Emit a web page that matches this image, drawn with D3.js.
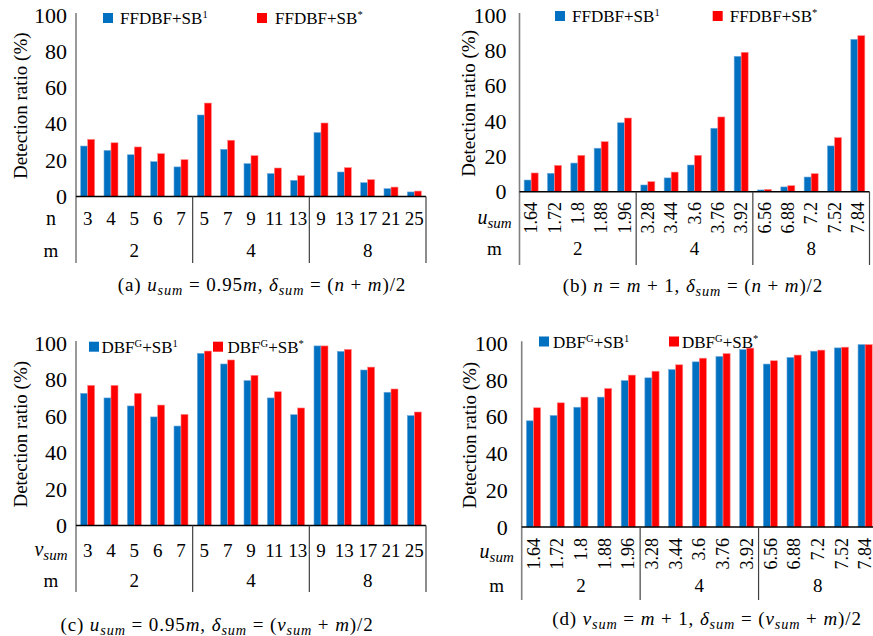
<!DOCTYPE html>
<html>
<head>
<meta charset="utf-8">
<script src="https://cdn.jsdelivr.net/npm/d3@7"></script>
<style>
  body { margin: 0; background: #fff; }
  svg { display: block; }
  text { font-family: "Liberation Serif", "Times New Roman", serif; fill: #000; }
</style>
</head>
<body>
<svg id="chart" width="873" height="636"></svg>
<script>
// ---- data ----
const nLabels   = ["3", "4", "5", "6", "7", "5", "7", "9", "11", "13", "9", "13", "17", "21", "25"];
const uLabels   = ["1.64", "1.72", "1.8", "1.88", "1.96", "3.28", "3.44", "3.6", "3.76", "3.92",
                   "6.56", "6.88", "7.2", "7.52", "7.84"];
const mGroups   = ["2", "4", "8"];
const yTicks    = [0, 20, 40, 60, 80, 100];

const aBase = [27.8, 25.4, 23.0, 19.2, 16.3, 44.9, 26.0, 18.1, 12.6, 8.9, 35.2, 13.5, 7.6, 4.3, 2.5];
const aStar = [31.5, 29.6, 27.3, 23.6, 20.3, 51.5, 31.0, 22.5, 15.7, 11.5, 40.5, 15.9, 9.3, 5.2, 3.0];

const bBase = [6.6, 10.4, 16.2, 24.6, 39.0, 3.8, 7.8, 15.1, 35.9, 76.6, 1.0, 2.7, 8.3, 25.9, 86.2];
const bStar = [10.6, 14.9, 20.6, 28.3, 41.7, 5.7, 11.1, 20.6, 42.3, 78.9, 1.3, 3.4, 10.2, 30.6, 88.3];

const cBase = [72.4, 69.9, 65.5, 59.5, 54.5, 94.3, 88.5, 79.4, 69.9, 60.7, 98.4, 95.4, 85.2, 73.0, 60.2];
const cStar = [76.8, 76.8, 72.4, 66.0, 60.9, 95.6, 90.7, 82.3, 73.3, 64.4, 98.4, 96.5, 86.8, 74.8, 62.2];

const dBase = [57.8, 60.7, 65.2, 70.7, 79.7, 81.2, 85.7, 89.9, 92.8, 96.6, 88.7, 92.3, 95.7, 97.5, 99.3];
const dStar = [64.9, 67.6, 70.7, 75.4, 82.7, 84.8, 88.3, 91.9, 94.4, 97.4, 90.5, 93.6, 96.3, 97.9, 99.3];

const colors = ["#0070C0", "#FF0000"];

const svg = d3.select("#chart");

// writes a list of [text, style] runs into a text element (shifts in px)
function runs(el, parts, shift) {
    parts.forEach(([t, s]) => {
        const ts = el.append("tspan").text(t);
        if (s === "i") ts.attr("font-style", "italic");
        if (s === "sub") ts.attr("font-style", "italic").attr("font-size", "0.75em").attr("dy", shift);
        if (s === "up") ts.attr("dy", -shift);
        if (s === "sup") ts.attr("font-size", "0.62em").attr("dy", -shift);
        if (s === "down") ts.attr("dy", shift);
    });
}

function drawPanel(p)
{
    const g = svg.append("g");

    const x = d3.scaleBand()
        .domain(d3.range(p.cats.length))
        .range([p.left, p.right])
        .paddingInner(0.4)
        .paddingOuter(0.2);
    const xs = d3.scaleBand().domain([0, 1]).range([0, x.bandwidth()]);
    const y = d3.scaleLinear().domain([0, 100]).range([p.y0, p.y100]);

    [p.base, p.star].forEach((vals, s) => {
        g.append("g").selectAll("rect")
            .data(vals)
            .join("rect")
            .attr("x", (d, i) => x(i) + xs(s))
            .attr("y", d => y(d))
            .attr("width", xs.bandwidth())
            .attr("height", d => y(0) - y(d))
            .attr("fill", colors[s])
            .attr("stroke", s ? "#ff8a8a" : "#6fa8dc")
            .attr("stroke-width", 0.6);
    });

    // y axis (labels only)
    const ax = g.append("g")
        .attr("transform", `translate(${p.left},0)`)
        .call(d3.axisLeft(y).tickValues(yTicks).tickSize(0).tickPadding(p.tickPad))
        .attr("font-family", null)
        .attr("font-size", 22);
    ax.select(".domain").remove();

    // y axis line, runs down through the category table
    g.append("line")
        .attr("x1", p.left).attr("x2", p.left)
        .attr("y1", y(100) - 2).attr("y2", p.bottom)
        .attr("stroke", "#808080").attr("stroke-width", 1.6);

    // x axis line
    g.append("line")
        .attr("x1", p.left).attr("x2", p.right)
        .attr("y1", y(0)).attr("y2", y(0))
        .attr("stroke", "#000").attr("stroke-width", 1.5);

    // group separators
    const step = x.step();
    g.append("g").selectAll("line")
        .data(d3.range(1, mGroups.length + 1))
        .join("line")
        .attr("x1", k => p.left + step * 5 * k)
        .attr("x2", k => p.left + step * 5 * k)
        .attr("y1", y(0)).attr("y2", p.bottom)
        .attr("stroke", "#404040").attr("stroke-width", 1.2);

    // category labels
    const cl = g.append("g").attr("font-size", p.rotated ? 18 : 19);
    if (p.rotated) {
        cl.selectAll("text").data(p.cats).join("text")
            .attr("transform", (d, i) => `translate(${x(i) + x.bandwidth() / 2},${p.catY}) rotate(-90)`)
            .attr("text-anchor", "end")
            .attr("dy", "0.34em")
            .text(d => d);
    } else {
        cl.selectAll("text").data(p.cats).join("text")
            .attr("x", (d, i) => x(i) + x.bandwidth() / 2)
            .attr("y", p.catY)
            .attr("text-anchor", "middle")
            .text(d => d);
    }

    g.append("g").attr("font-size", 19).selectAll("text")
        .data(mGroups).join("text")
        .attr("x", (d, k) => p.left + step * (5 * k + 2.5))
        .attr("y", p.mY)
        .attr("text-anchor", "middle")
        .text(d => d);

    // row headers
    const rh = g.append("text")
        .attr("x", p.left - 25).attr("y", p.rowY)
        .attr("text-anchor", "middle").attr("font-size", 20);
    runs(rh, p.rowName, 4);
    g.append("text")
        .attr("x", p.left - 25).attr("y", p.mY)
        .attr("text-anchor", "middle").attr("font-size", 19)
        .text("m");

    // axis title
    g.append("text")
        .attr("transform", `translate(${p.titleX},${(y(0) + y(100)) / 2}) rotate(-90)`)
        .attr("text-anchor", "middle")
        .attr("dy", "0.35em")
        .attr("font-size", 19)
        .text("Detection ratio (%)");

    // legend
    p.legend.forEach((lg, s) => {
        g.append("rect")
            .attr("x", lg[0]).attr("y", p.legY - 10)
            .attr("width", 10).attr("height", 10)
            .attr("fill", colors[s]);
        const t = g.append("text")
            .attr("x", lg[0] + lg[1]).attr("y", p.legY + 1)
            .attr("font-size", 17);
        runs(t, p.legendText[s], 6);
    });

    // caption
    const cap = g.append("text")
        .attr("x", p.capX).attr("y", p.capY)
        .attr("text-anchor", "middle")
        .attr("font-size", 19)
        .attr("letter-spacing", 0.9);
    runs(cap, p.caption, 3.5);
}

const ffLegend = [
    [["FFDBF+SB", ""], ["1", "sup"]],
    [["FFDBF+SB", ""], ["*", "sup"]]
];
const dbLegend = [
    [["DBF", ""], ["G", "sup"], ["+SB", "down"], ["1", "sup"]],
    [["DBF", ""], ["G", "sup"], ["+SB", "down"], ["*", "sup"]]
];

drawPanel({
    cats: nLabels, base: aBase, star: aStar,
    left: 76, right: 426, y0: 196.5, y100: 15, bottom: 263, tickPad: 9,
    rotated: false, catY: 225, rowY: 225, mY: 257,
    rowName: [["n", ""]],
    titleX: 20,
    legY: 23, legend: [[103, 17], [257, 18]], legendText: ffLegend,
    capX: 262, capY: 291,
    caption: [["(a) ", ""], ["u", "i"], ["sum", "sub"], [" = 0.95", "up"], ["m", "i"], [", ", ""],
              ["δ", "i"], ["sum", "sub"], [" = (", "up"], ["n", "i"], [" + ", ""], ["m", "i"], [")/2", ""]]
});

drawPanel({
    cats: uLabels, base: bBase, star: bStar,
    left: 519.5, right: 869.5, y0: 191.7, y100: 15, bottom: 265, tickPad: 13,
    rotated: true, catY: 202, rowY: 224, mY: 255,
    rowName: [["u", "i"], ["sum", "sub"]],
    titleX: 468,
    legY: 21, legend: [[555, 17], [712.7, 17]], legendText: ffLegend,
    capX: 693, capY: 292,
    caption: [["(b) ", ""], ["n", "i"], [" = ", ""], ["m", "i"], [" + 1, ", ""],
              ["δ", "i"], ["sum", "sub"], [" = (", "up"], ["n", "i"], [" + ", ""], ["m", "i"], [")/2", ""]]
});

drawPanel({
    cats: nLabels, base: cBase, star: cStar,
    left: 76, right: 426, y0: 525.5, y100: 343, bottom: 592, tickPad: 9,
    rotated: false, catY: 557, rowY: 556, mY: 587,
    rowName: [["v", "i"], ["sum", "sub"]],
    titleX: 20,
    legY: 351.7, legend: [[89, 12.5], [213, 14.5]], legendText: dbLegend,
    capX: 217, capY: 631,
    caption: [["(c) ", ""], ["u", "i"], ["sum", "sub"], [" = 0.95", "up"], ["m", "i"], [", ", ""],
              ["δ", "i"], ["sum", "sub"], [" = (", "up"], ["v", "i"], ["sum", "sub"], [" + ", "up"],
              ["m", "i"], [")/2", ""]]
});

drawPanel({
    cats: uLabels, base: dBase, star: dStar,
    left: 521.7, right: 877, y0: 527, y100: 343.3, bottom: 600, tickPad: 14,
    rotated: true, catY: 538, rowY: 558, mY: 592,
    rowName: [["u", "i"], ["sum", "sub"]],
    titleX: 469,
    legY: 346.5, legend: [[539, 14], [669, 13]], legendText: dbLegend,
    capX: 707, capY: 625,
    caption: [["(d) ", ""], ["v", "i"], ["sum", "sub"], [" = ", "up"], ["m", "i"], [" + 1, ", ""],
              ["δ", "i"], ["sum", "sub"], [" = (", "up"], ["v", "i"], ["sum", "sub"], [" + ", "up"],
              ["m", "i"], [")/2", ""]]
});
</script>
</body>
</html>
